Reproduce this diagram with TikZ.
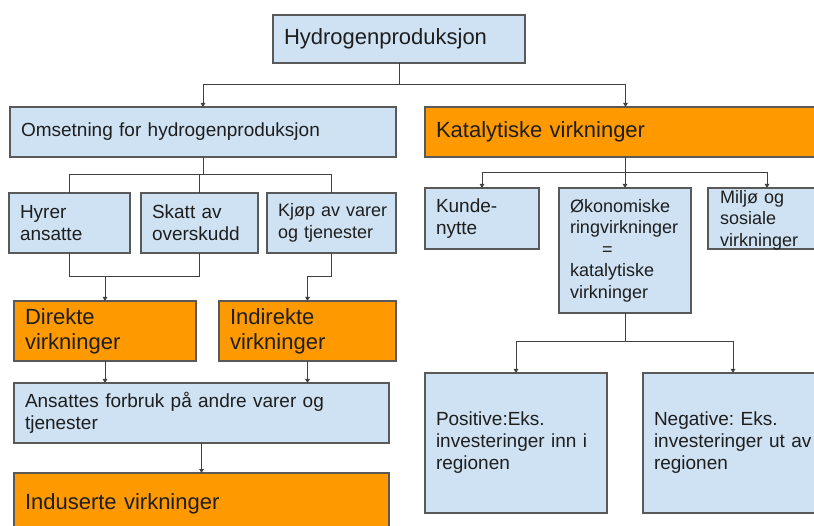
\documentclass[tikz,border=0pt]{standalone}
\usepackage{fontspec}
\setmainfont{Liberation Sans}
\usetikzlibrary{arrows.meta}
\definecolor{boxblue}{HTML}{CFE2F3}
\definecolor{boxorange}{HTML}{FF9900}
\definecolor{edge}{HTML}{595959}
\definecolor{wire}{HTML}{404040}
\definecolor{ink}{HTML}{1E1E1E}
\frenchspacing

\begin{document}
\begin{tikzpicture}[x=1pt,y=-1pt,
  card/.style={draw=edge, line width=1.1pt, outer sep=0pt, inner xsep=11pt,
    inner ysep=0pt, anchor=north west, align=left, text=ink},
  bluecard/.style={card, fill=boxblue},
  orangecard/.style={card, fill=boxorange},
  bigtext/.style={font=\fontsize{22}{25.3}\selectfont},
  smalltext/.style={font=\fontsize{19}{22}\selectfont},
  midtext/.style={font=\fontsize{18}{21.5}\selectfont},
  wirepath/.style={draw=wire, line width=1pt},
  tip/.style={wirepath, -{Triangle[length=4pt,width=4.5pt]}}
]
\useasboundingbox (0,0) rectangle (814,526);

% top level
\node[bluecard, bigtext, minimum width=252pt, minimum height=48pt, text width=230pt]
  (hyd) at (273,15) {Hydrogenproduksjon};

% second level
\node[bluecard, smalltext, minimum width=386pt, minimum height=50pt, text width=364pt]
  (omset) at (10,107) {Omsetning for hydrogenproduksjon};
\node[orangecard, bigtext, minimum width=401pt, minimum height=50pt, text width=379pt]
  (kat) at (425,107) {Katalytiske virkninger};

% left branch
\node[bluecard, smalltext, minimum width=121pt, minimum height=60pt, text width=99pt]
  (hyrer) at (9,193) {Hyrer\\ansatte};
\node[bluecard, smalltext, minimum width=117pt, minimum height=60pt, text width=95pt]
  (skatt) at (141,193) {Skatt av\\overskudd};
\node[bluecard, midtext, minimum width=129pt, minimum height=60pt, text width=107pt]
  (kjop) at (267,193) {\mbox{Kjøp av varer}\\og tjenester};

\node[orangecard, bigtext, minimum width=182pt, minimum height=60pt, text width=160pt]
  (dir) at (14,301) {Direkte\\virkninger};
\node[orangecard, bigtext, minimum width=177pt, minimum height=60pt, text width=155pt]
  (indir) at (219,301) {Indirekte\\virkninger};

\node[bluecard, smalltext, minimum width=375pt, minimum height=60pt, text width=353pt]
  (ans) at (14,383) {Ansattes forbruk på andre varer og\\tjenester};
\node[orangecard, bigtext, minimum width=375pt, minimum height=62pt, text width=353pt]
  (ind) at (14,473) {Induserte virkninger};

% right branch
\node[bluecard, smalltext, minimum width=114pt, minimum height=61pt, text width=92pt]
  (kunde) at (425,188) {Kunde-\\nytte};
\node[bluecard, midtext, minimum width=130pt, minimum height=125pt, text width=110pt]
  (okon) at (559,188) {Økonomiske\\ringvirkninger\\\hspace*{32pt}=\\katalytiske\\virkninger};
\node[bluecard, minimum width=118pt, minimum height=61pt] (miljo) at (708,188) {};
\node[midtext, text=ink, align=left, text width=100pt, inner sep=0pt, anchor=west]
  (miljotext) at ([xshift=12pt,yshift=-1.5pt]miljo.west) {Miljø og\\sosiale\\virkninger};

\node[bluecard, smalltext, minimum width=182pt, minimum height=140pt, text width=160pt]
  (pos) at (425,373) {Positive:Eks.\\investeringer inn i\\regionen};
\node[bluecard, smalltext, minimum width=180pt, minimum height=140pt, text width=158pt]
  (neg) at (643,373) {Negative: Eks.\\investeringer ut av\\regionen};

% junction heights
\coordinate (j1) at (0,85);
\coordinate (j2) at (0,175);
\coordinate (j3) at (0,277);
\coordinate (j4) at (0,173);
\coordinate (j5) at (0,342);

% connectors
\draw[wirepath] (hyd.south) -- (hyd.south |- j1);
\draw[tip] (hyd.south |- j1) -| (omset.north);
\draw[tip] (hyd.south |- j1) -| (kat.north);

\draw[wirepath] (omset.south) -- (omset.south |- j2);
\draw[wirepath] (hyrer.north) |- (kjop.north |- j2) -- (kjop.north);
\draw[wirepath] (skatt.north) -- (skatt.north |- j2);

\draw[wirepath] (hyrer.south) |- (skatt.south |- j3) -- (skatt.south);
\draw[tip] (dir.north |- j3) -- (dir.north);
\draw[tip] (kjop.south) |- (indir.north |- j3) -- (indir.north);

\draw[tip] (dir.south) -- (dir.south |- ans.north);
\draw[tip] (indir.south) -- (indir.south |- ans.north);
\draw[tip] (ans.south) -- (ans.south |- ind.north);

\draw[wirepath] (kat.south) -- (kat.south |- j4);
\draw[tip] (kat.south |- j4) -| (kunde.north);
\draw[tip] (kat.south |- j4) -| (miljo.north);
\draw[tip] (okon.north |- j4) -- (okon.north);

\draw[wirepath] (okon.south) -- (okon.south |- j5);
\draw[tip] (okon.south |- j5) -| (pos.north);
\draw[tip] (okon.south |- j5) -| (neg.north);
\end{tikzpicture}
\end{document}
